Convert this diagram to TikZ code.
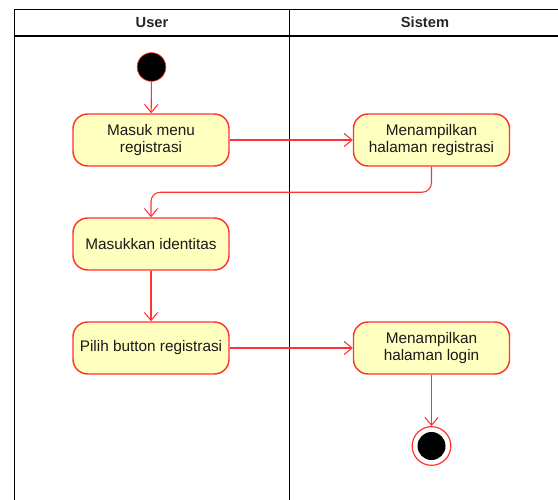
\documentclass[tikz,border=0pt]{standalone}
\usepackage{fontspec}
\setmainfont{Liberation Sans}
\usetikzlibrary{arrows.meta}
\definecolor{actfill}{HTML}{FFFFC0}
\definecolor{actline}{HTML}{FF3333}
\definecolor{txt}{HTML}{1A1A1A}
\begin{document}
\begin{tikzpicture}[x=0.75pt,y=-0.75pt,
  lane/.style={draw=black,line width=1.1pt},
  act/.style={draw=actline,fill=actfill,line width=1.1pt,rounded corners=11pt,
    minimum width=117pt,minimum height=39pt,align=center,font=\fontsize{11.5}{13}\selectfont,text=txt,inner sep=1pt},
  flow/.style={draw=actline,line width=0.8pt,-{Straight Barb[length=6pt,width=10pt,line width=0.8pt]}},
  hdr/.style={font=\bfseries\fontsize{11}{13}\selectfont,text=black!85}]
\useasboundingbox (0,0) rectangle (558,500);
\begin{scope}
\clip (0,0) rectangle (558,500);
\draw[lane] (14.5,520) -- (14.5,9.5) -- (570,9.5);
\draw[lane] (14.5,36) -- (570,36);
\draw[lane] (289.5,9.5) -- (289.5,520);
\end{scope}
\node[hdr] (hu) at (152,22.5) {User};
\node[hdr] (hs) at (425,22.5) {Sistem};
\node[circle,fill=black,draw=actline,line width=0.5pt,minimum size=21.5pt,inner sep=0pt] (start) at (151.5,67) {};
\node[act] (a1) at (151,140) {Masuk menu\\registrasi};
\node[act] (a2) at (431.5,140) {Menampilkan\\halaman registrasi};
\node[act] (a3) at (151,244) {Masukkan identitas};
\node[act] (a4) at (151,348) {Pilih button registrasi};
\node[act] (a5) at (431.5,348) {Menampilkan\\halaman login};
\node[circle,draw=actline,fill=white,line width=0.9pt,minimum size=29pt,inner sep=0pt] (end) at (431.5,446) {};
\node[circle,fill=black,minimum size=21pt,inner sep=0pt] (endin) at (end) {};
\draw[flow] (start) -- (a1);
\draw[flow] (a1) -- (a2);
\draw[flow,rounded corners=7pt] (a2.south) -- ++(0,25.5) -| (a3.north);
\draw[flow] (a3) -- (a4);
\draw[flow] (a4) -- (a5);
\draw[flow] (a5) -- (end);
\end{tikzpicture}
\end{document}
